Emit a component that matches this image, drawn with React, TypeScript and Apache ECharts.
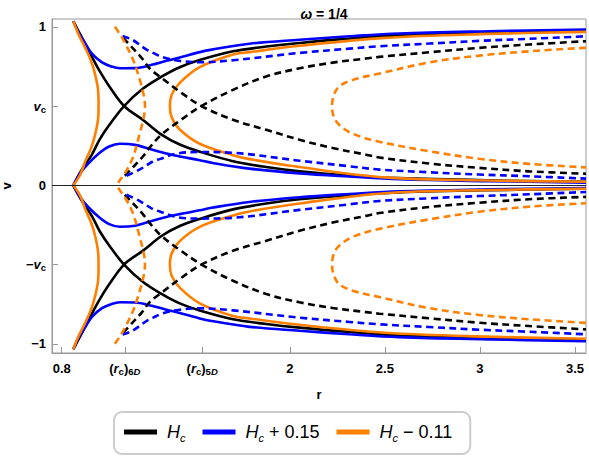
import React, { useEffect, useRef } from 'react';
import * as echarts from 'echarts';

const FONT = '"Liberation Sans", Arial, Helvetica, sans-serif';
const BLACK = '#000000';
const BLUE = '#0000ff';
const ORANGE = '#ff8000';

// ---- axis ticks ----
const xTickValues = [0.8, 1.132, 1.539, 2, 2.5, 3, 3.5];
const xTickLabels = [
  '{b|0.8}',
  '{b|(}{i|r}{s|c}{b|)}{s|6}{si|D}',
  '{b|(}{i|r}{s|c}{b|)}{s|5}{si|D}',
  '{b|2}',
  '{b|2.5}',
  '{b|3}',
  '{b|3.5}',
];
const yTickValues = [-1, -0.5, 0, 0.5, 1];
const yTickLabels = ['{b|−1}', '{b|−}{i|v}{s|c}', '{b|0}', '{i|v}{s|c}', '{b|1}'];

// ---- legend names ----
const NAME_HC = 'H_c';
const NAME_PLUS = 'H_c + 0.15';
const NAME_MINUS = 'H_c − 0.11';

// ---- curves (r, v) for v >= 0; lower half is the mirror image ----
// 6D, H_c (solid black)
const black6dA = [[0.861,1.035],[0.907,0.93],[0.959,0.81],[1.0,0.72],[1.05,0.625],[1.128,0.5],[1.228,0.412],[1.325,0.32],[1.421,0.257],[1.526,0.212],[1.701,0.152],[1.876,0.115],[2.051,0.088],[2.313,0.062],[2.576,0.045],[3.048,0.031],[3.558,0.022]];
const black6dB = [[0.861,0],[0.907,0.1],[0.959,0.194],[1.0,0.29],[1.05,0.38],[1.128,0.5],[1.228,0.61],[1.325,0.685],[1.421,0.745],[1.526,0.79],[1.701,0.845],[1.876,0.875],[2.051,0.898],[2.313,0.925],[2.576,0.947],[3.048,0.963],[3.558,0.975]];
// 6D, H_c + 0.15 (solid blue)
const blue6dUp = [[0.861,1.035],[0.89,0.96],[0.924,0.895],[0.959,0.83],[1.012,0.775],[1.06,0.75],[1.106,0.738],[1.186,0.739],[1.274,0.76],[1.351,0.785],[1.421,0.806],[1.526,0.84],[1.589,0.856],[1.788,0.893],[2.051,0.918],[2.313,0.94],[2.576,0.958],[3.048,0.972],[3.558,0.983]];
const blue6dLow = [[0.861,0],[0.9,0.08],[0.942,0.14],[1.0,0.205],[1.05,0.245],[1.106,0.262],[1.186,0.255],[1.274,0.225],[1.351,0.2],[1.421,0.182],[1.526,0.158],[1.589,0.142],[1.788,0.105],[2.051,0.075],[2.313,0.055],[2.576,0.038],[3.048,0.026],[3.558,0.017]];
// 6D, H_c - 0.11 (solid orange)
const orange6dLeft = [[0.861,1.035],[0.889,0.951],[0.924,0.867],[0.955,0.782],[0.976,0.698],[0.991,0.604],[0.994,0.505],[0.991,0.415],[0.976,0.32],[0.955,0.236],[0.924,0.151],[0.898,0.068],[0.861,0]];
const orange6dRight = [[3.558,0.968],[3.048,0.955],[2.5,0.93],[2.051,0.88],[1.788,0.84],[1.701,0.825],[1.526,0.745],[1.421,0.646],[1.379,0.572],[1.369,0.5],[1.379,0.428],[1.421,0.352],[1.526,0.262],[1.701,0.19],[1.788,0.165],[2.051,0.115],[2.5,0.05],[3.048,0.03],[3.558,0.022]];
// 5D, H_c (dashed black)
const black5dA = [[1.123,0.93],[1.17,0.87],[1.223,0.8],[1.264,0.735],[1.325,0.678],[1.43,0.583],[1.535,0.5],[1.701,0.413],[1.876,0.35],[2.051,0.287],[2.226,0.235],[2.401,0.193],[2.471,0.175],[2.733,0.137],[2.996,0.11],[3.258,0.088],[3.558,0.073]];
const black5dB = [[1.132,0.06],[1.18,0.12],[1.228,0.183],[1.264,0.24],[1.325,0.32],[1.43,0.415],[1.535,0.5],[1.701,0.602],[1.876,0.686],[2.051,0.738],[2.226,0.774],[2.401,0.8],[2.471,0.81],[2.733,0.839],[2.996,0.867],[3.258,0.888],[3.558,0.909]];
// 5D, H_c + 0.15 (dashed blue)
const blue5dUp = [[1.12,0.942],[1.176,0.915],[1.246,0.856],[1.281,0.835],[1.333,0.807],[1.421,0.785],[1.526,0.776],[1.701,0.789],[2.051,0.835],[2.313,0.862],[2.471,0.877],[2.733,0.894],[2.996,0.911],[3.258,0.924],[3.558,0.94]];
const blue5dLow = [[1.141,0.06],[1.211,0.1],[1.281,0.151],[1.316,0.165],[1.404,0.2],[1.526,0.21],[1.701,0.205],[2.051,0.155],[2.313,0.12],[2.471,0.099],[2.733,0.082],[2.996,0.068],[3.258,0.057],[3.558,0.042]];
// 5D, H_c - 0.11 (dashed orange)
const orange5dLeft = [[1.08,1.0],[1.105,0.955],[1.132,0.9],[1.176,0.79],[1.211,0.665],[1.232,0.565],[1.238,0.5],[1.232,0.43],[1.211,0.33],[1.176,0.18],[1.132,0.075],[1.105,0.03],[1.089,0]];
const orange5dRight = [[3.558,0.868],[3.258,0.845],[2.996,0.818],[2.733,0.775],[2.471,0.705],[2.331,0.665],[2.261,0.625],[2.232,0.57],[2.222,0.5],[2.232,0.43],[2.261,0.38],[2.331,0.325],[2.471,0.275],[2.733,0.215],[2.996,0.167],[3.258,0.135],[3.558,0.113]];

const curves = [
  { name: NAME_HC, color: BLACK, dashed: false, data: black6dA },
  { name: NAME_HC, color: BLACK, dashed: false, data: black6dB },
  { name: NAME_PLUS, color: BLUE, dashed: false, data: blue6dUp },
  { name: NAME_PLUS, color: BLUE, dashed: false, data: blue6dLow },
  { name: NAME_MINUS, color: ORANGE, dashed: false, data: orange6dLeft },
  { name: NAME_MINUS, color: ORANGE, dashed: false, data: orange6dRight },
  { name: NAME_HC, color: BLACK, dashed: true, data: black5dA },
  { name: NAME_HC, color: BLACK, dashed: true, data: black5dB },
  { name: NAME_PLUS, color: BLUE, dashed: true, data: blue5dUp },
  { name: NAME_PLUS, color: BLUE, dashed: true, data: blue5dLow },
  { name: NAME_MINUS, color: ORANGE, dashed: true, data: orange5dLeft },
  { name: NAME_MINUS, color: ORANGE, dashed: true, data: orange5dRight },
];

const legendRich: Record<string, string> = {
  [NAME_HC]: '{hi|H}{hs|c}',
  [NAME_PLUS]: '{hi|H}{hs|c}{hn| + 0.15}',
  [NAME_MINUS]: '{hi|H}{hs|c}{hn| − 0.11}',
};

const tickRich = {
  b: { fontFamily: FONT, fontWeight: 'bold', fontSize: 13, color: '#000', lineHeight: 16 },
  i: { fontFamily: FONT, fontWeight: 'bold', fontStyle: 'italic', fontSize: 13, color: '#000', lineHeight: 16 },
  s: { fontFamily: FONT, fontWeight: 'bold', fontSize: 9.5, color: '#000', lineHeight: 10, verticalAlign: 'bottom' },
  si: { fontFamily: FONT, fontWeight: 'bold', fontStyle: 'italic', fontSize: 9.5, color: '#000', lineHeight: 10, verticalAlign: 'bottom' },
};

function buildSeries() {
  const out: any[] = [];
  curves.forEach((c, idx) => {
    const style = {
      color: c.color,
      width: 2.6,
      type: c.dashed ? [7, 4.5] : 'solid',
    };
    const base = {
      type: 'line',
      name: c.name,
      color: c.color,
      showSymbol: false,
      symbol: 'none',
      smooth: 0.35,
      silent: true,
      lineStyle: style,
    };
    out.push({
      ...base,
      data: c.data,
      ...(idx === 0
        ? {
            markLine: {
              silent: true,
              symbol: ['none', 'none'],
              label: { show: false },
              lineStyle: { color: '#222', width: 1, type: 'solid' },
              data: [{ yAxis: 0 }],
            },
          }
        : {}),
    });
    out.push({ ...base, data: c.data.map(([r, v]) => [r, -v]) });
  });
  return out;
}

export default function App() {
  const ref = useRef<HTMLDivElement>(null);
  useEffect(() => {
    const chart = echarts.init(ref.current!, null, { renderer: 'svg' });
    const option: any = {
      animation: false,
      backgroundColor: '#ffffff',
      title: {
        text: '{i|ω}{b| = 1/4}',
        left: 319,
        top: 2,
        textAlign: 'center',
        textStyle: {
          rich: {
            i: { fontFamily: FONT, fontWeight: 'bold', fontStyle: 'italic', fontSize: 14, color: '#000' },
            b: { fontFamily: FONT, fontWeight: 'bold', fontSize: 14, color: '#000' },
          },
        },
      },
      legend: {
        data: [NAME_HC, NAME_PLUS, NAME_MINUS],
        left: 114,
        top: 412,
        orient: 'horizontal',
        icon: 'rect',
        itemWidth: 33,
        itemHeight: 5,
        itemGap: 17,
        padding: [11, 18, 11, 10],
        borderColor: '#cccccc',
        borderWidth: 2,
        borderRadius: 8,
        selectedMode: false,
        formatter: (name: string) => legendRich[name] ?? name,
        textStyle: {
          padding: [0, 0, 0, 5],
          rich: {
            hi: { fontFamily: FONT, fontStyle: 'italic', fontSize: 18, color: '#000', lineHeight: 22 },
            hs: { fontFamily: FONT, fontStyle: 'italic', fontSize: 11, color: '#000', lineHeight: 13, verticalAlign: 'bottom' },
            hn: { fontFamily: FONT, fontSize: 18, color: '#000', lineHeight: 22 },
          },
        },
      },
      grid: {
        left: 52,
        right: 3,
        top: 19,
        bottom: 105,
        show: true,
        borderColor: '#999999',
        borderWidth: 1,
        containLabel: false,
        outerBoundsMode: 'none',
      },
      xAxis: {
        type: 'value',
        min: 0.749,
        max: 3.558,
        name: 'r',
        nameLocation: 'middle',
        nameGap: 35,
        nameTextStyle: { fontFamily: FONT, fontWeight: 'bold', fontSize: 13, color: '#000' },
        axisLine: { onZero: false, lineStyle: { color: '#999999', width: 1 } },
        axisTick: { inside: true, length: 6, customValues: xTickValues, lineStyle: { color: '#999999' } },
        axisLabel: {
          customValues: xTickValues,
          margin: 7,
          formatter: (v: number) => {
            const k = xTickValues.findIndex((t) => Math.abs(t - v) < 1e-6);
            return k >= 0 ? xTickLabels[k] : '';
          },
          rich: tickRich,
        },
        splitLine: { show: false },
      },
      yAxis: {
        type: 'value',
        min: -1.058,
        max: 1.049,
        name: 'v',
        nameLocation: 'middle',
        nameRotate: 90,
        nameGap: 41,
        nameTextStyle: { fontFamily: FONT, fontWeight: 'bold', fontSize: 13, color: '#000', lineHeight: 10 },
        axisLine: { show: true, onZero: false, lineStyle: { color: '#999999', width: 1 } },
        axisTick: { show: true, inside: true, length: 6, customValues: yTickValues, lineStyle: { color: '#999999' } },
        axisLabel: {
          customValues: yTickValues,
          margin: 6,
          formatter: (v: number) => {
            const k = yTickValues.findIndex((t) => Math.abs(t - v) < 1e-6);
            return k >= 0 ? yTickLabels[k] : '';
          },
          rich: tickRich,
        },
        splitLine: { show: false },
      },
      series: buildSeries(),
    };
    chart.setOption(option);
    return () => chart.dispose();
  }, []);
  return (
    <div
      ref={ref}
      style={{ position: 'fixed', left: 0, top: 0, width: 589, height: 458, background: '#fff' }}
    />
  );
}
